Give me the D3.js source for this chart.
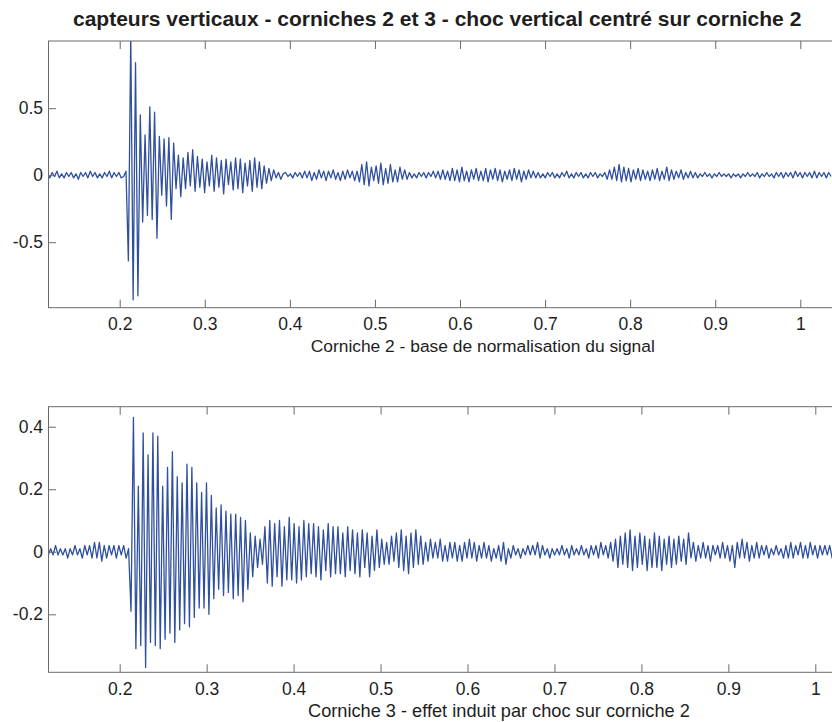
<!DOCTYPE html>
<html>
<head>
<meta charset="utf-8">
<script src="https://cdnjs.cloudflare.com/ajax/libs/d3/7.8.5/d3.min.js"></script>
<style>
  body { margin: 0; background: #fff; }
  svg { display: block; font-family: "Liberation Sans", Arial, sans-serif; }
</style>
</head>
<body>
<svg id="capteurs" width="832" height="722"></svg>
<script>
// sampled signal: one value every `step` seconds, starting at t0
var t0 = 0.115,
    step = 0.0028;

var xTicks = [0.2, 0.3, 0.4, 0.5, 0.6, 0.7, 0.8, 0.9, 1];
var yTicksC2 = [-0.5, 0, 0.5];
var yTicksC3 = [-0.2, 0, 0.2, 0.4];

// corniche 2 (peaks / troughs)
var corniche2 = [
  0.01,-0.02,0.02,-0.01,0.03,-0.02,0.01,-0.02,0.02,-0.01,
  0.02,-0.02,0.01,-0.03,0.02,-0.01,0.02,-0.02,0.03,-0.01,
  0.02,-0.02,0.01,-0.02,0.02,-0.01,0.03,-0.02,0.02,-0.01,
  0.02,-0.02,-0.01,0.03,-0.64,1.05,-0.93,0.84,-0.90,0.45,
  -0.35,0.30,-0.30,0.51,-0.33,0.47,-0.47,0.29,-0.15,0.27,
  -0.23,0.28,-0.33,0.24,-0.10,0.15,-0.16,0.13,-0.10,0.17,
  -0.08,0.19,-0.12,0.14,-0.09,0.12,-0.13,0.10,-0.08,0.15,
  -0.12,0.13,-0.09,0.11,-0.14,0.12,-0.07,0.10,-0.11,0.13,
  -0.10,0.12,-0.13,0.09,-0.08,0.11,-0.12,0.13,-0.09,0.10,
  -0.10,0.07,-0.06,0.05,-0.04,0.04,-0.02,0.02,-0.03,0.01,
  0.02,-0.01,0.01,-0.02,0.02,-0.01,0.02,-0.02,0.03,-0.02,
  0.03,-0.04,0.02,-0.03,0.04,-0.02,0.03,-0.04,0.03,-0.02,
  0.04,-0.03,0.02,-0.04,0.03,-0.03,0.04,-0.02,0.03,-0.04,
  0.03,-0.05,0.08,-0.07,0.10,-0.08,0.06,-0.04,0.07,-0.06,
  0.09,-0.07,0.05,-0.06,0.08,-0.05,0.04,-0.05,0.06,-0.03,
  0.04,-0.03,0.02,-0.02,0.01,-0.02,0.02,-0.01,0.02,-0.02,
  0.02,-0.01,0.03,-0.02,0.03,-0.03,0.04,-0.03,0.03,-0.04,
  0.05,-0.04,0.04,-0.05,0.06,-0.04,0.03,-0.05,0.04,-0.03,
  0.05,-0.04,0.03,-0.04,0.05,-0.05,0.04,-0.03,0.05,-0.04,
  0.04,-0.05,0.03,-0.03,0.04,-0.04,0.05,-0.03,0.04,-0.05,
  0.03,-0.03,0.04,-0.02,0.03,-0.02,0.02,-0.02,0.01,-0.02,
  0.02,-0.01,0.02,-0.02,0.01,-0.02,0.02,-0.01,0.03,-0.02,
  0.01,-0.02,0.02,-0.01,0.02,-0.02,0.01,-0.02,0.02,-0.01,
  0.02,-0.02,0.01,-0.01,0.02,-0.03,0.04,-0.03,0.06,-0.04,
  0.08,-0.05,0.06,-0.04,0.05,-0.05,0.04,-0.03,0.05,-0.04,
  0.04,-0.03,0.03,-0.04,0.04,-0.03,0.05,-0.04,0.03,-0.03,
  0.06,-0.04,0.04,-0.03,0.03,-0.02,0.04,-0.03,0.02,-0.02,
  0.03,-0.02,0.02,-0.02,0.01,-0.01,0.02,-0.01,0.01,-0.02,
  0.01,-0.01,0.02,-0.01,0.01,-0.01,0.01,-0.02,0.01,-0.01,
  0.01,-0.02,0.01,-0.01,0.02,-0.01,0.01,-0.01,0.02,-0.02,
  0.01,-0.01,0.02,-0.01,0.01,-0.02,0.02,-0.01,0.02,-0.02,
  0.02,-0.01,0.02,-0.02,0.03,-0.01,0.02,-0.02,0.02,-0.01,
  0.02,-0.02,0.03,-0.02,0.02,-0.01,0.02,-0.02,0.02,-0.01
];

// corniche 3
var corniche3 = [
  0.01,-0.01,0.01,-0.01,0.02,-0.01,0.01,-0.01,0.01,-0.02,
  0.01,-0.01,0.02,-0.01,0.01,-0.02,0.02,-0.01,0.02,-0.02,
  0.03,-0.02,0.03,-0.03,0.02,-0.02,0.02,-0.01,0.02,-0.02,
  0.02,-0.01,0.02,-0.02,0.01,-0.19,0.43,-0.31,0.21,-0.30,
  0.38,-0.37,0.31,-0.29,0.38,-0.30,0.37,-0.31,0.21,-0.28,
  0.27,-0.26,0.32,-0.29,0.24,-0.25,0.22,-0.23,0.28,-0.24,
  0.27,-0.21,0.22,-0.18,0.19,-0.18,0.22,-0.20,0.18,-0.15,
  0.14,-0.12,0.15,-0.14,0.13,-0.13,0.12,-0.15,0.12,-0.14,
  0.11,-0.16,0.10,-0.12,0.06,-0.08,0.05,-0.05,0.04,-0.04,
  0.08,-0.10,0.10,-0.11,0.09,-0.08,0.10,-0.11,0.08,-0.09,
  0.11,-0.09,0.09,-0.10,0.08,-0.09,0.10,-0.08,0.09,-0.07,
  0.09,-0.08,0.08,-0.09,0.07,-0.06,0.09,-0.08,0.08,-0.07,
  0.08,-0.07,0.06,-0.08,0.08,-0.06,0.07,-0.07,0.06,-0.08,
  0.07,-0.05,0.06,-0.08,0.05,-0.06,0.07,-0.05,0.04,-0.04,
  0.03,-0.04,0.05,-0.03,0.06,-0.05,0.07,-0.06,0.05,-0.07,
  0.06,-0.05,0.07,-0.04,0.05,-0.04,0.03,-0.03,0.04,-0.02,
  0.03,-0.02,0.04,-0.03,0.02,-0.03,0.03,-0.02,0.03,-0.03,
  0.02,-0.03,0.03,-0.02,0.04,-0.02,0.03,-0.03,0.02,-0.02,
  0.03,-0.02,0.02,-0.03,0.01,-0.02,0.02,-0.03,0.03,-0.04,
  0.01,-0.02,0.02,-0.01,0.01,-0.02,0.01,-0.01,0.02,-0.01,
  0.02,-0.01,0.03,-0.02,0.02,-0.01,0.01,-0.02,0.01,-0.01,
  0.01,-0.01,0.02,-0.01,0.01,-0.02,0.02,-0.01,0.01,-0.01,
  0.02,-0.01,0.01,-0.02,0.02,-0.01,0.02,-0.02,0.03,-0.01,
  0.02,-0.02,0.03,-0.03,0.04,-0.05,0.05,-0.04,0.06,-0.05,
  0.07,-0.06,0.05,-0.05,0.06,-0.04,0.05,-0.06,0.04,-0.05,
  0.06,-0.05,0.05,-0.06,0.04,-0.04,0.05,-0.05,0.04,-0.04,
  0.05,-0.03,0.04,-0.04,0.06,-0.02,0.03,-0.03,0.02,-0.02,
  0.03,-0.02,0.02,-0.03,0.02,-0.01,0.02,-0.02,0.03,-0.02,
  0.02,-0.03,0.02,-0.05,0.03,-0.02,0.04,-0.02,0.03,-0.03,
  0.02,-0.02,0.03,-0.02,0.02,-0.01,0.02,-0.02,0.01,-0.01,
  0.02,-0.01,0.01,-0.02,0.02,-0.02,0.03,-0.02,0.02,-0.01,
  0.03,-0.02,0.02,-0.02,0.03,-0.01,0.02,-0.02,0.02,-0.01,
  0.02,-0.01,0.02,-0.02,0.01,-0.01,0.02,-0.01,0.02,-0.01
];

var svg = d3.select("svg#capteurs"),
    lineColor = "#2f4f9f",
    frameColor = "#6a6a6a",
    textColor = "#1e1e1e",
    left = 48,
    right = 832;

// matlab prints a plain hyphen for negatives
var tickText = function (d) { return String(d); };

svg.append("text")
    .attr("x", 73)
    .attr("y", 26)
    .attr("fill", textColor)
    .style("font", "bold 21px 'Liberation Sans', Arial, sans-serif")
    .text("capteurs verticaux - corniches 2 et 3 - choc vertical centré sur corniche 2");

drawPanel({
    id: "c2", data: corniche2, top: 41, bottom: 307.7,
    xRange: [119.7, 800.3], yDomain: [-0.5, 0.5], yRange: [242.2, 108.2],
    yTicks: yTicksC2,
    label: "Corniche 2 - base de normalisation du signal", labelX: 310.7, labelY: 352, labelSize: 17.4
});

drawPanel({
    id: "c3", data: corniche3, top: 406.7, bottom: 672.3,
    xRange: [119.7, 815.3], yDomain: [-0.2, 0.4], yRange: [614.3, 426.7],
    yTicks: yTicksC3,
    label: "Corniche 3 - effet induit par choc sur corniche 2", labelX: 308, labelY: 717, labelSize: 18.2
});

function drawPanel(p) {
    var x = d3.scaleLinear().domain([0.2, 1]).range(p.xRange);
    var y = d3.scaleLinear().domain(p.yDomain).range(p.yRange);

    svg.append("clipPath")
        .attr("id", "clip-" + p.id)
        .append("rect")
        .attr("x", left)
        .attr("y", p.top)
        .attr("width", right - left)
        .attr("height", p.bottom - p.top);

    var line = d3.line()
        .x(function (d, i) { return x(t0 + i * step); })
        .y(function (d) { return y(d); });

    svg.append("path")
        .datum(p.data)
        .attr("clip-path", "url(#clip-" + p.id + ")")
        .attr("fill", "none")
        .attr("stroke", lineColor)
        .attr("stroke-width", 1.3)
        .attr("stroke-linejoin", "round")
        .attr("d", line);

    // ticks inside the box, matlab style
    var bottomAxis = svg.append("g")
        .attr("transform", "translate(0," + p.bottom + ")")
        .call(d3.axisBottom(x).tickValues(xTicks).tickSizeInner(-8).tickSizeOuter(0)
            .tickPadding(10).tickFormat(tickText));

    svg.append("g")
        .attr("transform", "translate(0," + p.top + ")")
        .call(d3.axisTop(x).tickValues(xTicks).tickSizeInner(-8).tickSizeOuter(0).tickFormat(""));

    var leftAxis = svg.append("g")
        .attr("transform", "translate(" + left + ",0)")
        .call(d3.axisLeft(y).tickValues(p.yTicks).tickSizeInner(-8).tickSizeOuter(0)
            .tickPadding(5).tickFormat(tickText));

    svg.selectAll(".domain").remove();
    svg.selectAll(".tick line").attr("stroke", frameColor);

    [bottomAxis, leftAxis].forEach(function (a) {
        a.selectAll("text")
            .attr("fill", textColor)
            .style("font", "17.5px 'Liberation Sans', Arial, sans-serif");
    });

    svg.append("rect")
        .attr("x", left + 0.5)
        .attr("y", p.top)
        .attr("width", right - left)
        .attr("height", p.bottom - p.top)
        .attr("fill", "none")
        .attr("stroke", frameColor)
        .attr("stroke-width", 1);

    svg.append("text")
        .attr("x", p.labelX)
        .attr("y", p.labelY)
        .attr("fill", textColor)
        .style("font", p.labelSize + "px 'Liberation Sans', Arial, sans-serif")
        .text(p.label);
}
</script>
</body>
</html>
